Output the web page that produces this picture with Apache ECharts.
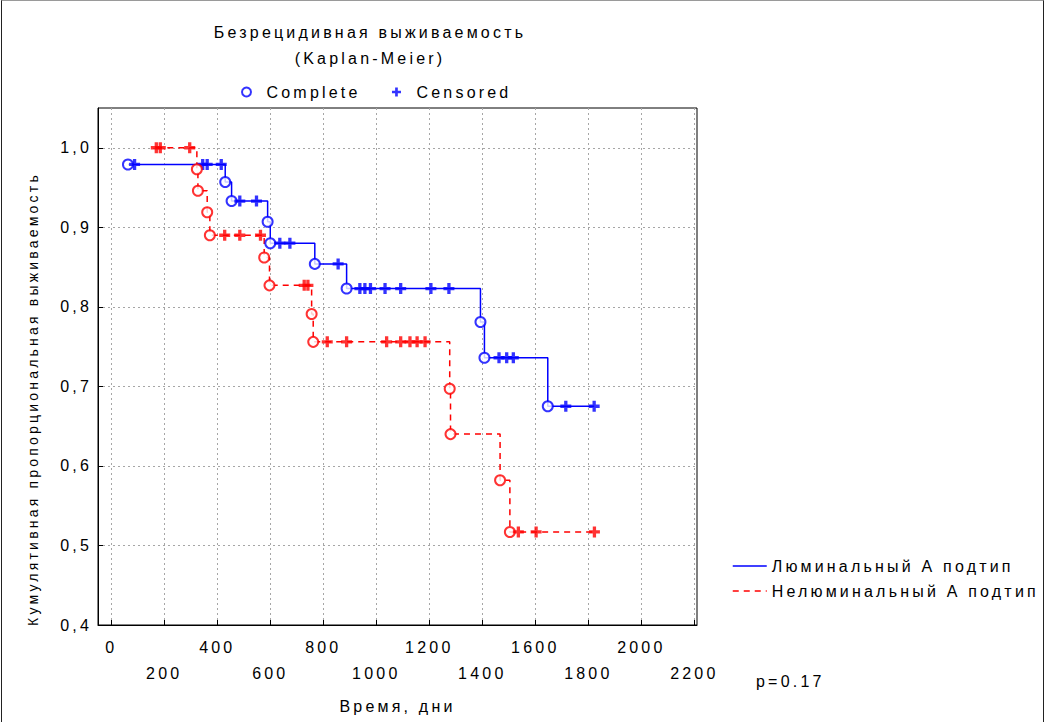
<!DOCTYPE html>
<html>
<head>
<meta charset="utf-8">
<script src="https://cdn.jsdelivr.net/npm/echarts@6/dist/echarts.min.js"></script>
<style>
  html, body { margin: 0; padding: 0; background: #fff; overflow: hidden; }
  #chart { position: absolute; left: 0; top: 0; width: 1046px; height: 722px; }
  /* wide character spacing of the plot's lettering */
  #chart text { letter-spacing: 3.2px; }
  #frame { position: absolute; left: 1px; top: 0; width: 1041px; height: 760px;
           border: 1px solid #222; border-top-color: #9a9a9a; pointer-events: none; }
</style>
</head>
<body>
<div id="chart"></div>
<div id="frame"></div>
<script>
// Relapse-free survival (Kaplan-Meier): time in days, cumulative proportion surviving.
// status: 1 = complete (event), 0 = censored
const lumName = 'Люминальный А подтип';
const lumDays     = [63, 88, 345, 362, 415, 430, 454, 485, 548, 590, 600, 636, 674, 768, 856, 888,
                     938, 957, 978, 1033, 1092, 1206, 1274, 1393, 1408, 1463, 1492, 1517, 1647, 1715, 1822];
const lumSurvival = [0.979, 0.979, 0.979, 0.979, 0.979, 0.957, 0.933, 0.933, 0.933, 0.907, 0.880, 0.880, 0.880, 0.854, 0.854, 0.823,
                     0.823, 0.823, 0.823, 0.823, 0.823, 0.823, 0.823, 0.781, 0.736, 0.736, 0.736, 0.736, 0.675, 0.675, 0.675];
const lumStatus   = [1, 0, 0, 0, 0, 1, 1, 0, 0, 1, 1, 0, 0, 1, 0, 1,
                     0, 0, 0, 0, 0, 0, 0, 1, 1, 0, 0, 0, 1, 0, 0];

const nonName = 'Нелюминальный А подтип';
const nonDays     = [170, 185, 296, 323, 327, 362, 372, 428, 485, 563, 577, 597, 728, 742, 756,
                     762, 815, 888, 1039, 1092, 1127, 1154, 1184, 1277, 1280, 1467, 1504, 1536, 1603, 1823];
const nonSurvival = [1, 1, 1, 0.973, 0.946, 0.919, 0.890, 0.890, 0.890, 0.890, 0.862, 0.827, 0.827, 0.827, 0.791,
                     0.756, 0.756, 0.756, 0.756, 0.756, 0.756, 0.756, 0.756, 0.697, 0.640, 0.582, 0.517, 0.517, 0.517, 0.517];
const nonStatus   = [0, 0, 0, 1, 1, 1, 1, 0, 0, 0, 1, 1, 0, 0, 1,
                     1, 0, 0, 0, 0, 0, 0, 0, 1, 1, 1, 1, 0, 0, 0];

const xTicks = [0, 200, 400, 600, 800, 1000, 1200, 1400, 1600, 1800, 2000, 2200];
const yTicks = [0.4, 0.5, 0.6, 0.7, 0.8, 0.9, 1.0];

const titleLines = ['Безрецидивная выживаемость', '(Kaplan-Meier)'];
const xName = 'Время, дни';
const yName = 'Кумулятивная пропорциональная выживаемость';
const pText = 'p=0.17';

const FONT = '"Liberation Sans", Arial, sans-serif';
const FS = 16;
const BLUE = '#0000ff';
const RED = '#ff0000';
const PLUS = 'path://M3.5,0H6.5V3.5H10V6.5H6.5V10H3.5V6.5H0V3.5H3.5Z';

function pairs(days, surv, pick) {
  const out = [];
  days.forEach((d, i) => { if (pick(i)) out.push([d, surv[i]]); });
  return out;
}

function label(text, x, y, size, align, rotation) {
  return {
    type: 'text', x: x, y: y, rotation: rotation || 0, silent: true,
    style: { text: text, font: size + 'px ' + FONT, fill: '#000',
             align: align, verticalAlign: 'middle', textAlign: align, textVerticalAlign: 'middle' }
  };
}

const chart = echarts.init(document.getElementById('chart'), null, { renderer: 'svg' });

const gridLine = { show: true, lineStyle: { color: '#a6a6a6', width: 1, type: [2, 3] } };
const textStyle = { fontSize: FS, color: '#000', fontFamily: FONT };

chart.setOption({
  animation: false,
  backgroundColor: '#fff',
  textStyle: { fontFamily: FONT, color: '#000' },
  grid: {
    left: 98, top: 108, width: 599, height: 517,
    show: true, borderColor: '#000', borderWidth: 1, backgroundColor: 'transparent',
    outerBoundsMode: 'none'
  },
  xAxis: {
    type: 'value', min: -50, max: 2210,
    name: xName, nameLocation: 'middle', nameGap: 73,
    nameTextStyle: textStyle,
    axisLine: { show: true, onZero: false, lineStyle: { color: '#000', width: 1 } },
    axisTick: { show: true, inside: true, length: 5, customValues: xTicks, lineStyle: { color: '#000' } },
    axisLabel: {
      customValues: xTicks, margin: 9, fontSize: FS, lineHeight: 26, color: '#000', fontFamily: FONT,
      formatter: v => (v % 400 === 0 ? String(v) : '\n' + v)
    },
    splitLine: gridLine
  },
  yAxis: {
    type: 'value', min: 0.4, max: 1.05,
    axisLine: { show: true, onZero: false, lineStyle: { color: '#000', width: 1 } },
    axisTick: { show: true, inside: true, length: 5, customValues: yTicks, lineStyle: { color: '#000' } },
    axisLabel: {
      customValues: yTicks, margin: 6, fontSize: FS, color: '#000', fontFamily: FONT,
      formatter: v => v.toFixed(1).replace('.', ',')
    },
    splitLine: gridLine
  },
  legend: [
    {
      data: ['Complete', 'Censored'],
      left: 236, top: 79, itemWidth: 30, itemHeight: 9, itemGap: 57,
      textStyle: textStyle
    },
    {
      data: [lumName, nonName],
      orient: 'vertical', left: 727, top: 553, itemWidth: 34, itemHeight: 14, itemGap: 9,
      itemStyle: { opacity: 0 },
      lineStyle: { width: 1.5 },
      textStyle: textStyle
    }
  ],
  graphic: [
    label(titleLines[0], 370, 32, FS, 'center'),
    label(titleLines[1], 370, 58, FS, 'center'),
    label(yName, 33, 399, 14, 'center', Math.PI / 2),
    label(pText, 756, 681, FS, 'left')
  ],
  series: [
    {
      name: lumName, type: 'line', step: 'end', symbol: 'none',
      data: pairs(lumDays, lumSurvival, () => true),
      lineStyle: { color: BLUE, width: 1.5, type: 'solid' }, itemStyle: { color: BLUE }
    },
    {
      name: nonName, type: 'line', step: 'end', symbol: 'none',
      data: pairs(nonDays, nonSurvival, () => true),
      lineStyle: { color: RED, width: 1.5, type: [6, 5] }, itemStyle: { color: RED }
    },
    {
      name: 'Complete', type: 'scatter', symbol: 'circle', symbolSize: 10, z: 3,
      data: pairs(lumDays, lumSurvival, i => lumStatus[i] === 1),
      itemStyle: { color: '#fff', borderColor: BLUE, borderWidth: 2 }
    },
    {
      name: 'Censored', type: 'scatter', symbol: PLUS, symbolSize: 11, z: 3,
      data: pairs(lumDays, lumSurvival, i => lumStatus[i] === 0),
      itemStyle: { color: BLUE }
    },
    {
      name: 'Complete', type: 'scatter', symbol: 'circle', symbolSize: 10, z: 3,
      data: pairs(nonDays, nonSurvival, i => nonStatus[i] === 1),
      itemStyle: { color: '#fff', borderColor: RED, borderWidth: 2 }
    },
    {
      name: 'Censored', type: 'scatter', symbol: PLUS, symbolSize: 11, z: 3,
      data: pairs(nonDays, nonSurvival, i => nonStatus[i] === 0),
      itemStyle: { color: RED }
    }
  ]
});
</script>
</body>
</html>
